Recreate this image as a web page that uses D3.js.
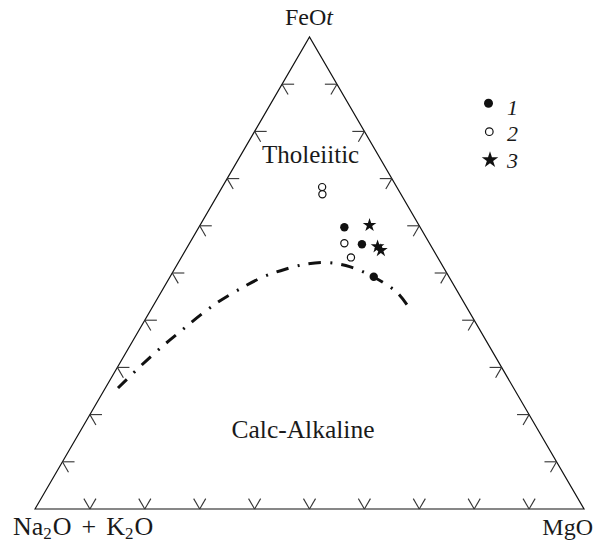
<!DOCTYPE html>
<html>
<head>
<meta charset="utf-8">
<script src="https://cdn.jsdelivr.net/npm/d3@7/dist/d3.min.js"></script>
<style>
  html, body { margin: 0; padding: 0; background: #fff; }
  svg { display: block; }
  text { font-family: "Liberation Serif", "Times New Roman", serif; fill: #1a1a1a; }
</style>
</head>
<body>
<svg id="chart" width="601" height="543"></svg>
<script>
// Ternary data: values in percent [Na2O+K2O (A), FeOt (F), MgO (M)]
const series1 = [ // filled circles
  [13.8, 59.7, 26.5],
  [12.4, 56.1, 31.5],
  [13.7, 49.2, 37.1]
];
const series2 = [ // open circles
  [13.6, 68.2, 18.2],
  [14.3, 66.7, 19.0],
  [15.5, 56.3, 28.2],
  [15.8, 53.3, 30.9]
];
const series3 = [ // stars
  [9.0, 60.2, 30.9],
  [9.8, 55.6, 34.6],
  [9.6, 54.8, 35.6]
];
// Tholeiitic / calc-alkaline boundary (Irvine & Baragar)
const boundary = [
  [72.0, 25.6, 2.3],
  [62.9, 32.2, 4.9],
  [54.3, 37.9, 7.8],
  [45.5, 43.4, 11.1],
  [38.6, 47.0, 14.4],
  [33.8, 49.2, 17.0],
  [29.0, 50.8, 20.2],
  [24.6, 51.9, 23.5],
  [20.5, 52.2, 27.3],
  [16.9, 51.3, 31.8],
  [13.8, 49.2, 37.0],
  [11.1, 45.8, 43.1],
  [10.5, 41.9, 47.6]
];
const tickValues = [10, 20, 30, 40, 50, 60, 70, 80, 90];
const legendLabels = ["1", "2", "3"];

const svg = d3.select("#chart");
const xScale = d3.scaleLinear().domain([0, 100]).range([35, 584]);
const yScale = d3.scaleLinear().domain([0, 100]).range([509, 37]);
function proj(a, f, m) {
  const s = a + f + m;
  const F = f / s * 100, M = m / s * 100;
  return [xScale(M + F / 2), yScale(F)];
}

// triangle
const corners = [proj(100, 0, 0), proj(0, 100, 0), proj(0, 0, 100)];
svg.append("path")
  .attr("d", "M" + corners.map(c => c.join(",")).join("L") + "Z")
  .attr("fill", "none").attr("stroke", "#111").attr("stroke-width", 1.2)
  .attr("stroke-linejoin", "miter");

// ticks
const d = 2.2;
const tickSegs = [];
tickValues.forEach(t => {
  const b = proj(100 - t, 0, t);
  tickSegs.push([b, proj(100 - t - d, d, t)]);
  tickSegs.push([b, proj(100 - t, d, t - d)]);
  const l = proj(100 - t, t, 0);
  tickSegs.push([l, proj(100 - t - d, t, d)]);
  tickSegs.push([l, proj(100 - t, t - d, d)]);
  const r = proj(0, t, 100 - t);
  tickSegs.push([r, proj(d, t, 100 - t - d)]);
  tickSegs.push([r, proj(d, t - d, 100 - t)]);
});
svg.append("g").selectAll("line").data(tickSegs).join("line")
  .attr("x1", s => s[0][0]).attr("y1", s => s[0][1])
  .attr("x2", s => s[1][0]).attr("y2", s => s[1][1])
  .attr("stroke", "#333").attr("stroke-width", 1.1);

// boundary curve
const line = d3.line().curve(d3.curveCatmullRom.alpha(0.5));
svg.append("path")
  .attr("d", line(boundary.map(p => proj(p[0], p[1], p[2]))))
  .attr("fill", "none").attr("stroke", "#111").attr("stroke-width", 3)
  .attr("stroke-dasharray", "12.5 9.5 2 9");

// markers
const star = d3.symbol().type(d3.symbolStar);
svg.append("g").selectAll("circle").data(series1).join("circle")
  .attr("cx", p => proj(...p)[0]).attr("cy", p => proj(...p)[1])
  .attr("r", 4.2).attr("fill", "#111");
svg.append("g").selectAll("circle").data(series2).join("circle")
  .attr("cx", p => proj(...p)[0]).attr("cy", p => proj(...p)[1])
  .attr("r", 3.6).attr("fill", "#fff").attr("stroke", "#111").attr("stroke-width", 1.2);
svg.append("g").selectAll("path").data(series3).join("path")
  .attr("d", star.size(58)())
  .attr("transform", p => "translate(" + proj(...p).join(",") + ")")
  .attr("fill", "#111");

// axis labels
svg.append("text").attr("x", 309).attr("y", 25).attr("text-anchor", "middle")
  .attr("font-size", 24)
  .call(t => { t.append("tspan").text("FeO"); t.append("tspan").attr("font-style", "italic").text("t"); });
const alk = svg.append("text").attr("x", 13).attr("y", 535).attr("font-size", 26);
alk.append("tspan").text("Na");
alk.append("tspan").attr("font-size", 17).attr("dy", 4).text("2");
alk.append("tspan").attr("dy", -4).attr("dx", 1).text("O");
alk.append("tspan").attr("dx", 10).text("+");
alk.append("tspan").attr("dx", 10).text("K");
alk.append("tspan").attr("font-size", 17).attr("dy", 4).text("2");
alk.append("tspan").attr("dy", -4).attr("dx", 1).text("O");
svg.append("text").attr("x", 593).attr("y", 535).attr("text-anchor", "end")
  .attr("font-size", 24).text("MgO");

// field labels
svg.append("text").attr("x", 262).attr("y", 163).attr("font-size", 25).text("Tholeiitic");
svg.append("text").attr("x", 303).attr("y", 438).attr("text-anchor", "middle")
  .attr("font-size", 25.5).text("Calc-Alkaline");

// legend
const lg = svg.append("g");
const ly = [103.3, 131.7, 160];
const lb = [115, 141, 168];
lg.append("circle").attr("cx", 488.5).attr("cy", ly[0]).attr("r", 4.5).attr("fill", "#111");
lg.append("circle").attr("cx", 489.3).attr("cy", ly[1]).attr("r", 3.8)
  .attr("fill", "#fff").attr("stroke", "#111").attr("stroke-width", 1.2);
lg.append("path").attr("d", star.size(85)()).attr("transform", "translate(490," + ly[2] + ")").attr("fill", "#111");
lg.selectAll("text").data(legendLabels).join("text")
  .attr("x", 507).attr("y", (v, i) => lb[i]).attr("font-size", 22)
  .attr("font-style", "italic").text(v => v);
</script>
</body>
</html>
